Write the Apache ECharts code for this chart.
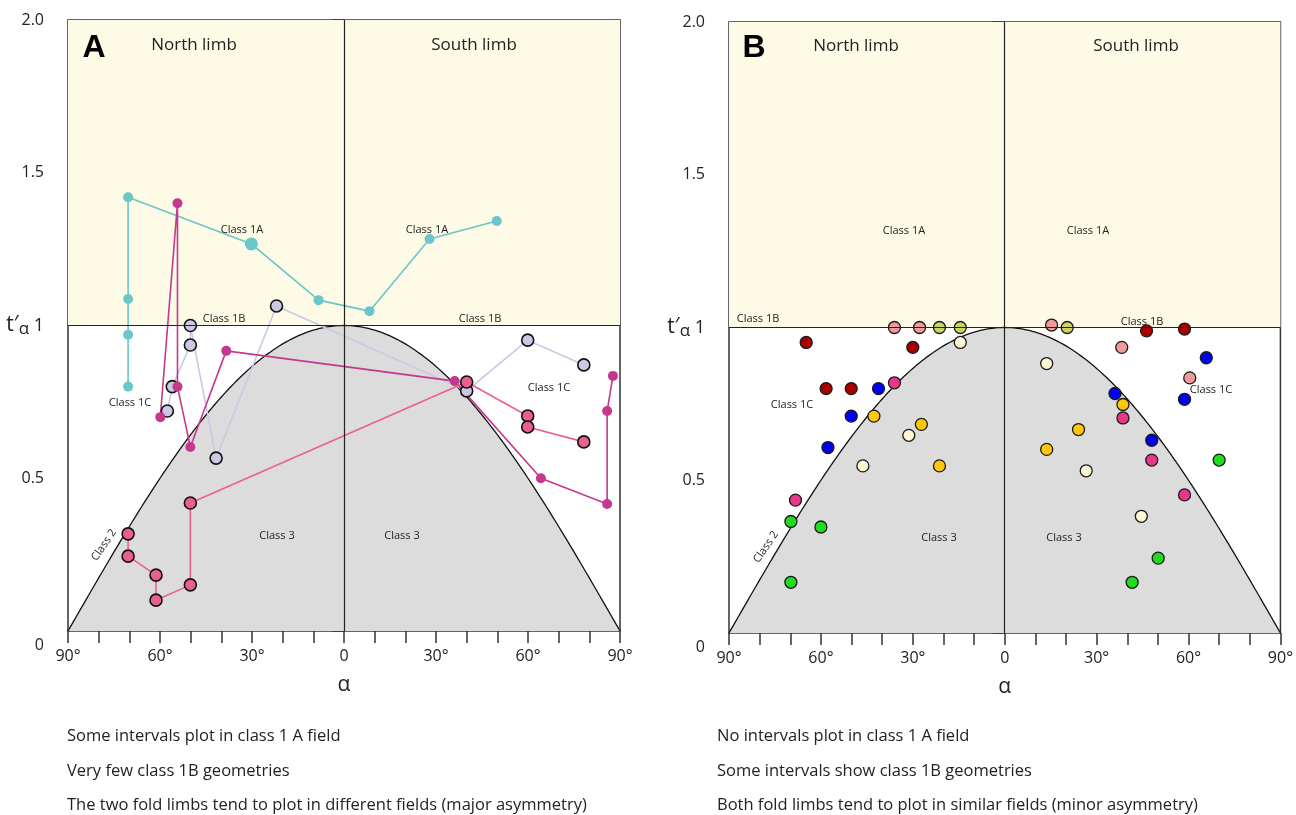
<!DOCTYPE html>
<html>
<head>
<meta charset="utf-8">
<script src="https://cdn.jsdelivr.net/npm/echarts@6/dist/echarts.min.js"></script>
<style>
html,body{margin:0;padding:0;background:#fff;}
#chart{width:1296px;height:815px;}
</style>
</head>
<body>
<div id="chart"></div>
<script>
// ---------- Data (alpha in degrees: north limb negative / left, south limb positive / right) ----------
// Panel A
const aCyanAlpha = [-70.4, -70.4, -70.4, -70.4, -30.2, -8.3, 8.3, 27.9, 49.8];
const aCyanT     = [0.80, 0.97, 1.087, 1.42, 1.267, 1.083, 1.047, 1.283, 1.342];
const aLavAlpha  = [-57.6, -56.0, -50.1, -50.1, -41.7, -22.0, 40.0, 59.9, 78.2];
const aLavT      = [0.72, 0.80, 0.936, 1.0, 0.566, 1.064, 0.786, 0.952, 0.871];
const aMagAlpha  = [-59.9, -54.3, -54.3, -50.1, -38.4, 36.1, 64.2, 85.8, 85.8, 87.7];
const aMagT      = [0.70, 1.40, 0.80, 0.602, 0.917, 0.818, 0.50, 0.416, 0.72, 0.835];
const aPinkAlpha = [-70.4, -70.4, -61.3, -61.3, -50.1, -50.1, 40.0, 59.9, 59.9, 78.2];
const aPinkT     = [0.318, 0.245, 0.183, 0.101, 0.151, 0.419, 0.815, 0.704, 0.668, 0.619];
// Panel B
const bSalmonAlpha = [-36.0, -27.8, 15.3, 38.2, 60.4];
const bSalmonT     = [1.0, 1.0, 1.008, 0.935, 0.835];
const bOliveAlpha  = [-21.3, -14.5, 20.4];
const bOliveT      = [1.0, 1.0, 1.0];
const bCreamAlpha  = [-14.5, -31.3, -46.3, 13.7, 26.6, 44.6];
const bCreamT      = [0.951, 0.647, 0.547, 0.882, 0.531, 0.382];
const bRedAlpha    = [-64.8, -30.0, -58.3, -50.1, 46.3, 58.7];
const bRedT        = [0.951, 0.935, 0.800, 0.800, 0.989, 0.995];
const bBlueAlpha   = [-41.2, -50.1, -57.7, 36.0, 65.8, 58.7, 48.0];
const bBlueT       = [0.800, 0.710, 0.607, 0.784, 0.901, 0.765, 0.631];
const bMagAlpha    = [-36.0, -68.3, 38.6, 48.0, 58.7];
const bMagT        = [0.819, 0.435, 0.704, 0.566, 0.452];
const bGoldAlpha   = [-42.7, -27.2, -21.3, 38.6, 24.1, 13.7];
const bGoldT       = [0.710, 0.683, 0.547, 0.748, 0.666, 0.601];
const bGreenAlpha  = [-69.8, -60.0, -69.8, 70.0, 50.1, 41.6];
const bGreenT      = [0.365, 0.347, 0.166, 0.566, 0.245, 0.166];
// Axis ticks / labels
const alphaLabelValues = [-90, -60, -30, 0, 30, 60, 90];
const tLabelValues = [0, 0.5, 1, 1.5, 2];

// Class 2 boundary (parallel folds): t'α = cos α  (theoretical reference curve)
const class2Curve = [];
for (let a = -90; a <= 90; a += 1) class2Curve.push([a, Math.cos(a * Math.PI / 180)]);

const pairs = (xs, ys) => xs.map((x, i) => [x, ys[i]]);
const FONT = "'Open Sans', 'Noto Sans', sans-serif";
const TXT = '#222';

function xAxisFor(gi) {
  return {
    gridIndex: gi, type: 'value', min: -90, max: 90, interval: 10,
    name: 'α', nameLocation: 'middle', nameGap: 44,
    nameTextStyle: { fontFamily: FONT, fontSize: 21, color: TXT },
    axisLine: { show: false },
    axisTick: { show: true, length: 12, lineStyle: { color: '#333', width: 1.5 } },
    splitLine: { show: false },
    axisLabel: {
      margin: 17, fontFamily: FONT, fontSize: 16, color: TXT,
      formatter: v => {
        const r = Math.round(v);
        if (!alphaLabelValues.includes(r)) return '';
        return r === 0 ? '0' : Math.abs(r) + '°';
      }
    }
  };
}
function yAxisFor(gi) {
  return {
    gridIndex: gi, type: 'value', min: 0, max: 2, interval: 0.1,
    axisLine: { show: false },
    axisTick: { show: true, length: 12, lineStyle: { color: '#333', width: 1.5 } },
    splitLine: { show: false },
    axisLabel: {
      margin: 24, fontFamily: FONT, fontSize: 16, color: TXT,
      formatter: v => {
        const r = Math.round(v * 10) / 10;
        if (!tLabelValues.some(t => Math.abs(t - r) < 1e-6)) return '';
        if (r === 2) return '2.0';
        if (r === 1) return '{t|t′}{s|α}{n| 1}';
        if (r === 0) return '{z|0}';
        return String(r);
      },
      rich: {
        t: { fontFamily: FONT, fontSize: 21, color: TXT, lineHeight: 24 },
        s: { fontFamily: FONT, fontSize: 17, color: TXT, lineHeight: 24, padding: [8, 0, 0, 0] },
        n: { fontFamily: FONT, fontSize: 18, color: TXT, lineHeight: 24 },
        z: { fontFamily: FONT, fontSize: 16, color: TXT, padding: [28, 0, 0, 0] }
      }
    }
  };
}
function frameSeries(gi) {
  return {
    type: 'line', xAxisIndex: gi, yAxisIndex: gi, data: class2Curve,
    showSymbol: false, silent: true, z: 1,
    lineStyle: { color: '#111', width: 1.3 },
    areaStyle: { color: '#dcdcdc', origin: 'start', opacity: 1 },
    markArea: {
      silent: true, itemStyle: { color: '#fdfae6' },
      data: [[{ xAxis: -90, yAxis: 1 }, { xAxis: 90, yAxis: 2 }]]
    },
    markLine: {
      silent: true, symbol: 'none', label: { show: false },
      lineStyle: { color: '#222', width: 1.2, type: 'solid' },
      data: [{ xAxis: 0 }, { yAxis: 1 }]
    }
  };
}
function pathSeries(xs, ys, color, outline, sizeFn) {
  return {
    type: 'line', xAxisIndex: 0, yAxisIndex: 0, data: pairs(xs, ys), z: 3,
    symbol: 'circle', showSymbol: true, symbolSize: sizeFn,
    lineStyle: { color: color, width: 1.6 },
    itemStyle: { color: color, borderColor: outline ? '#111' : color, borderWidth: outline ? 1.6 : 0 }
  };
}
function dotSeries(xs, ys, color) {
  return {
    type: 'scatter', xAxisIndex: 1, yAxisIndex: 1, data: pairs(xs, ys), z: 4,
    symbol: 'circle', symbolSize: 12,
    itemStyle: { color: color, borderColor: '#1a1a1a', borderWidth: 1.3, opacity: 1 }
  };
}
function txt(x, y, s, size, extra) {
  return Object.assign({
    type: 'text', x: x, y: y, z: 20,
    style: { text: s, fontFamily: FONT, fontSize: size, fill: TXT, align: 'center', verticalAlign: 'middle' }
  }, extra || {});
}
function caption(x, y, s) {
  return { type: 'text', x: x, y: y, style: { text: s, fontFamily: FONT, fontSize: 16.5, fill: TXT, verticalAlign: 'middle' } };
}

const chart = echarts.init(document.getElementById('chart'), null, { renderer: 'canvas' });
const gridStyle = { show: true, borderColor: '#333', borderWidth: 1.5, backgroundColor: 'transparent', containLabel: false };
chart.setOption({
  animation: false,
  backgroundColor: '#fff',
  grid: [
    Object.assign({ left: 68, top: 20, width: 552, height: 611 }, gridStyle),
    Object.assign({ left: 729, top: 22, width: 552, height: 611 }, gridStyle)
  ],
  xAxis: [xAxisFor(0), xAxisFor(1)],
  yAxis: [yAxisFor(0), yAxisFor(1)],
  series: [
    frameSeries(0), frameSeries(1),
    pathSeries(aCyanAlpha, aCyanT, '#6ac6c8', false, (v, p) => p.dataIndex === 4 ? 13 : 10),
    pathSeries(aLavAlpha, aLavT, '#cbc8e4', true, 12),
    pathSeries(aMagAlpha, aMagT, '#c4388e', false, 10),
    pathSeries(aPinkAlpha, aPinkT, '#e9608f', true, 12),
    dotSeries(bSalmonAlpha, bSalmonT, '#f29a9b'),
    dotSeries(bOliveAlpha, bOliveT, '#c9d45c'),
    dotSeries(bCreamAlpha, bCreamT, '#fdf7d4'),
    dotSeries(bRedAlpha, bRedT, '#a60000'),
    dotSeries(bBlueAlpha, bBlueT, '#0000f5'),
    dotSeries(bMagAlpha, bMagT, '#e6388a'),
    dotSeries(bGoldAlpha, bGoldT, '#ffc70a'),
    dotSeries(bGreenAlpha, bGreenT, '#1fdc1f')
  ],
  graphic: [
    // Panel A
    { type: 'text', x: 94, y: 48, z: 20, style: { text: 'A', fontFamily: "'Liberation Sans', Arial, sans-serif", fontWeight: 'bold', fontSize: 32, fill: '#000', align: 'center', verticalAlign: 'middle' } },
    txt(194, 45, 'North limb', 17),
    txt(474, 45, 'South limb', 17),
    txt(242, 230, 'Class 1A', 11),
    txt(427, 230, 'Class 1A', 11),
    txt(224, 319, 'Class 1B', 11),
    txt(480, 319, 'Class 1B', 11),
    txt(130, 403, 'Class 1C', 11),
    txt(549, 388, 'Class 1C', 11),
    txt(277, 536, 'Class 3', 11),
    txt(402, 536, 'Class 3', 11),
    txt(104, 545, 'Class 2', 11, { rotation: 0.97 }),
    // Panel B
    { type: 'text', x: 754, y: 48, z: 20, style: { text: 'B', fontFamily: "'Liberation Sans', Arial, sans-serif", fontWeight: 'bold', fontSize: 32, fill: '#000', align: 'center', verticalAlign: 'middle' } },
    txt(856, 46, 'North limb', 17),
    txt(1136, 46, 'South limb', 17),
    txt(904, 231, 'Class 1A', 11),
    txt(1088, 231, 'Class 1A', 11),
    txt(758, 319, 'Class 1B', 11),
    txt(1142, 322, 'Class 1B', 11),
    txt(792, 405, 'Class 1C', 11),
    txt(1211, 390, 'Class 1C', 11),
    txt(939, 538, 'Class 3', 11),
    txt(1064, 538, 'Class 3', 11),
    txt(766, 547, 'Class 2', 11, { rotation: 0.97 }),
    // Captions
    caption(67, 736, 'Some intervals plot in class 1 A field'),
    caption(67, 771, 'Very few class 1B geometries'),
    caption(67, 805, 'The two fold limbs tend to plot in different fields (major asymmetry)'),
    caption(717, 736, 'No intervals plot in class 1 A field'),
    caption(717, 771, 'Some intervals show class 1B geometries'),
    caption(717, 805, 'Both fold limbs tend to plot in similar fields (minor asymmetry)')
  ]
});
</script>
</body>
</html>
